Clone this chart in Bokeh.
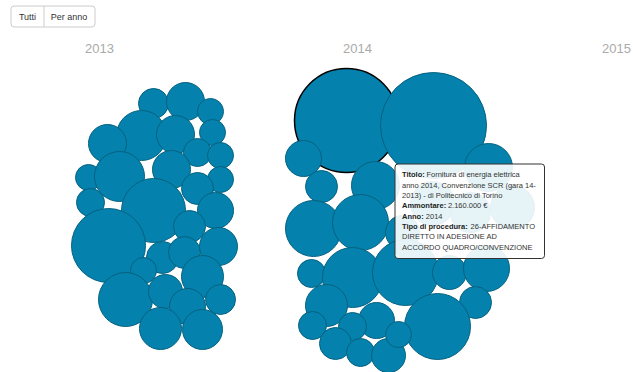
import math
from bokeh.plotting import figure
from bokeh.models import Range1d
from bokeh.embed import file_html
from bokeh.resources import INLINE
from bokeh.core.properties import value

# ---------------- data ----------------
buttons = ["Tutti", "Per anno"]
year_labels = ["2013", "2014", "2015"]
year_label_x = [99, 357, 616]

# 2013 contracts (layout position from force simulation, amount in euro)
x_2013 = [153, 185, 210, 141, 175, 212, 107, 197, 220, 88, 119, 171, 220, 197, 90,
          153, 215, 108, 189, 162, 184, 218, 143, 202, 125, 165, 187, 220, 160, 202]
y_2013 = [103, 101, 111, 135, 134, 132, 143, 152, 155, 177, 176, 169, 179, 188, 202,
          210, 210, 245, 226, 257, 252, 246, 270, 276, 299, 291, 306, 299, 328, 329]
amount_2013 = [179800, 288400, 135000, 499400, 288400, 135000, 288400, 156600, 135000, 135000,
               499400, 288400, 135000, 204500, 156600, 818200, 258900, 1093800, 204500, 204500,
               204500, 288400, 135000, 352300, 582500, 230900, 258900, 179800, 352300, 319600]

# 2014 contracts
x_2014 = [433, 303, 321, 375, 488, 432, 470, 512, 313, 360, 402, 311, 352, 405,
          449, 486, 326, 475, 376, 437, 312, 352, 335, 360, 388, 398]
y_2014 = [125, 158, 186, 185, 167, 203, 212, 207, 228, 222, 232, 273, 277, 272,
          272, 268, 305, 302, 320, 326, 325, 326, 343, 352, 355, 334]
amount_2014 = [2244000, 258900, 204500, 460200, 460200, 386700, 319600, 386700, 626400, 626400,
               230900, 156600, 719100, 870100, 230900, 422600, 352300, 204500, 258900, 870100,
               156600, 156600, 204500, 156600, 230900, 135000]

# selected contract (shown in the tooltip)
sel_x = [346]
sel_y = [120]
sel_amount = [2160000]

tip_labels = ["Titolo:", "", "", "Ammontare:", "Anno:", "Tipo di procedura:", "", ""]
tip_values = ["Fornitura di energia elettrica", "anno 2014, Convenzione SCR (gara 14-",
              "2013) - di Politecnico di Torino", "2.160.000 \u20ac", "2014",
              "26-AFFIDAMENTO", "DIRETTO IN ADESIONE AD", "ACCORDO QUADRO/CONVENZIONE"]

# ---------------- styling ----------------
FONT = value("Liberation Sans")
FILL = "#0482ad"
EDGE = "#05617f"
K = 52 / math.sqrt(2160000)  # sqrt scale: radius in px per sqrt(euro)


def rad(amounts):
    return [K * math.sqrt(a) for a in amounts]


W, H = 633, 372
p = figure(width=W, height=H, output_backend="svg", toolbar_location=None,
           x_range=Range1d(0, W), y_range=Range1d(H, 0),
           min_border=0, background_fill_color="white", border_fill_color="white")
p.outline_line_color = None
p.axis.visible = False
p.grid.visible = False

# buttons
p.quad(left=[10.5], right=[94.5], top=[5.5], bottom=[26.5], fill_color="white",
       line_color="#cccccc", line_width=1, border_radius=3)
p.segment(x0=[43.5], y0=[5.5], x1=[43.5], y1=[26.5], line_color="#cccccc", line_width=1)
p.text(x=[27, 68.5], y=[16.5, 16.5], text=buttons, text_font=FONT, text_font_size="9px",
       text_color="#333333", text_align="center", text_baseline="middle")

# year labels
p.text(x=year_label_x, y=[48] * 3, text=year_labels, text_font=FONT, text_font_size="13px",
       text_color="#aaaaaa", text_align="center", text_baseline="middle")

# bubbles (selected one first so neighbours overlap its outline as in the original)
p.circle(x=sel_x, y=sel_y, radius=rad(sel_amount), radius_units="screen",
         fill_color=FILL, line_color="black", line_width=1.5)
p.circle(x=x_2013, y=y_2013, radius=rad(amount_2013), radius_units="screen",
         fill_color=FILL, line_color=EDGE, line_width=1)
p.circle(x=x_2014, y=y_2014, radius=rad(amount_2014), radius_units="screen",
         fill_color=FILL, line_color=EDGE, line_width=1)

# tooltip
p.quad(left=[394.5], right=[544], top=[163.5], bottom=[258], fill_color="white", fill_alpha=0.9,
       line_color="#333333", line_width=1, border_radius=3)
tx0 = 401.5
ty = [174.3 + 10.35 * i for i in range(len(tip_values))]
offsets = [24.4, 0, 0, 45.9, 23.8, 68.6, 0, 0]
p.text(x=[tx0] * len(tip_labels), y=ty, text=tip_labels, text_font=FONT, text_font_size="7.5px",
       text_font_style="bold", text_color="#222222", text_align="left", text_baseline="middle")
p.text(x=[tx0 + o for o in offsets], y=ty, text=tip_values, text_font=FONT,
       text_font_size="7.5px", text_color="#333333", text_align="left", text_baseline="middle")

open("out.html", "w").write(file_html(p, INLINE))
